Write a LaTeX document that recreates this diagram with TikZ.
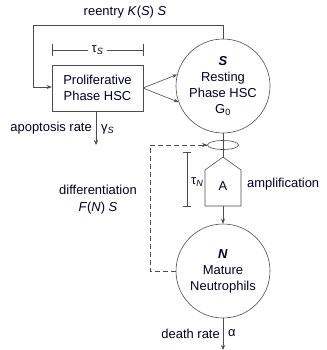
\documentclass[tikz,border=0pt]{standalone}
\usepackage{fontspec}
\setmainfont{Liberation Sans}
\usetikzlibrary{arrows.meta,shapes.geometric}
\begin{document}
\begin{tikzpicture}[x=1bp,y=-1bp,
  lin/.style={draw=black!70,line width=0.6bp},
  arr/.style={lin,-{Stealth[length=5bp,width=4bp]}},
  txt/.style={font=\fontsize{13}{16}\selectfont,text=black!85!blue,inner sep=0pt},
  circ/.style={lin,circle,minimum size=94bp,inner sep=0pt,align=center,font=\fontsize{13}{16}\selectfont,text=black!85!blue}]
\useasboundingbox (0,0) rectangle (327,350);
% nodes
\node[lin,rectangle,minimum width=91bp,minimum height=46bp,align=center,txt] (P) at (97.5,88) {Proliferative\\Phase HSC};
\node[circ] (S) at (223,86) {\textbf{\textit{S}}\\Resting\\Phase HSC\\G\textsubscript{0}};
\node[circ] (N) at (223,271) {\textbf{\textit{N}}\\Mature\\Neutrophils};
\node[lin,ellipse,minimum width=31bp,minimum height=9bp,inner sep=0pt] (E) at (223,145) {};
% pentagon amplifier
\coordinate (At) at (223,157);
\coordinate (Ab) at (223,206);
\draw[lin] (At) -- (241,170) -- (241,206) -- (205,206) -- (205,170) -- cycle;
\node[txt] (A) at (223,186) {A};
\node[txt,anchor=west] (amp) at (247,184) {amplification};
% reentry
\node[txt] (re) at (125,12) {reentry \textit{K}(\textit{S}) \textit{S}};
\coordinate (r1) at (223,25);
\coordinate (r2) at (33,25);
\coordinate (r3) at (33,87);
\draw[lin] (S.north) -- (r1) -- (r2) -- (r3);
\draw[arr] (r3) -- (P.west |- r3);
% tau S bracket
\coordinate (t1) at (52,50);
\coordinate (t2) at (143,50);
\node[txt,fill=white,inner xsep=3bp] (tS) at (97.5,50) {τ\textsubscript{\textit{S}}};
\draw[lin] (t1) -- (tS.west) (tS.east) -- (t2);
\draw[lin] (52,44) -- (52,56) (143,44) -- (143,56);
% P -> S arrows
\coordinate (pr) at (143,88);
\draw[arr] (pr) -- (S.180+20);
\draw[arr] (pr) -- (S.180-14);
% apoptosis
\coordinate (ap) at (96,145);
\draw[arr] (P.south -| ap) -- (ap);
\node[txt,anchor=east] (apl) at (92,128) {apoptosis rate};
\node[txt,anchor=west] (g) at (101,129) {γ\textsubscript{\textit{S}}};
% S -> ellipse -> A
\draw[lin] (S.south) -- (At);
% A -> N
\draw[arr] (Ab) -- (N.north);
% tau N bracket
\draw[lin] (187,152) -- (187,206) (183,152) -- (191,152) (183,206) -- (191,206);
\node[txt,anchor=west] (tN) at (191,182) {τ\textsubscript{\textit{N}}};
% differentiation dashed
\coordinate (d1) at (150,271);
\coordinate (d2) at (150,145);
\draw[lin,dash pattern=on 5bp off 3bp] (N.west) -- (d1) -- (d2) -- (E.west);
\draw[arr] (201,145) -- (E.west);
\node[txt] (dif) at (98,190) {differentiation};
\node[txt] (fn) at (98,208) {\textit{F}(\textit{N}) \textit{S}};
% death
\coordinate (dd) at (223,350);
\draw[arr] (N.south) -- (dd);
\node[txt,anchor=east] (dl) at (220,334) {death rate};
\node[txt,anchor=west] (al) at (228,333) {α};
\end{tikzpicture}
\end{document}
